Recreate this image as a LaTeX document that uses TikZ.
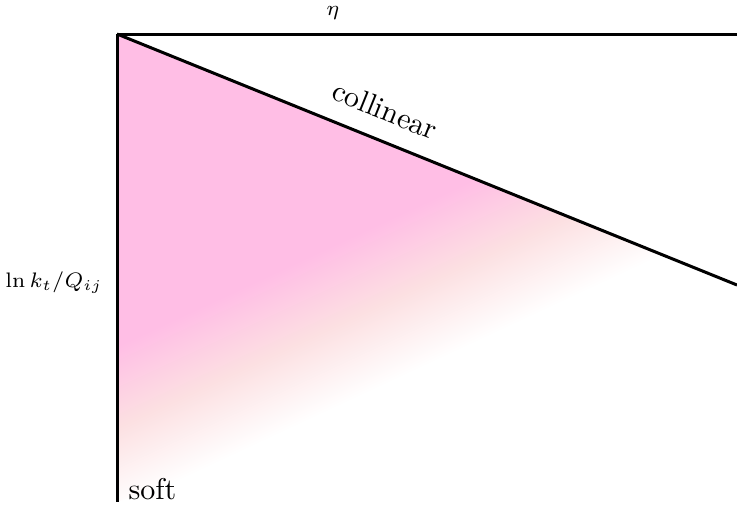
\documentclass[tikz,border=0pt]{standalone}
\usepackage{amsmath,amssymb}
\usepackage{xcolor}
\usepackage{tikz}
\usetikzlibrary{positioning,calc}

\definecolor{softpink}{RGB}{255,190,229}
\definecolor{peach}{RGB}{252,224,226}
\pgfdeclareverticalshading{pinkfade}{100bp}{%
  color(0bp)=(white); color(46bp)=(white); color(50bp)=(peach);
  color(54bp)=(softpink); color(100bp)=(softpink)}

\begin{document}
\begin{tikzpicture}[
  x=0.3333pt, y=-0.3333pt,
  edge/.style={line width=1pt},
  lbl/.style={font=\scriptsize, inner sep=1pt}
]
  \useasboundingbox (0,0) rectangle (737,511);

  % Corners of the plane
  \coordinate (apex)   at (117,34);
  \coordinate (topend) at (737,34);
  \coordinate (colend) at (737,285);
  \coordinate (bottom) at (117,502);

  % Shaded region below the collinear line
  \begin{scope}
    \clip (apex) -- (colend) -- (bottom) -- cycle;
    \shade[shading=pinkfade, shading angle=25] (-128,-137) rectangle (798,789);
  \end{scope}

  % Boundaries
  \draw[edge] (apex) -- (topend);
  \draw[edge] (apex) -- (bottom);
  \draw[edge] (apex) -- (colend);

  % Labels
  \node[lbl] (eta)  at (333,13) {$\eta$};
  \node[lbl] (lnkt) at (54,283) {$\ln k_t/Q_{ij}$};
  \node[inner sep=0pt, anchor=base west] (soft) at (128,499) {soft};
  \node[rotate=-22] (coll) at (385,110) {collinear};
\end{tikzpicture}
\end{document}
